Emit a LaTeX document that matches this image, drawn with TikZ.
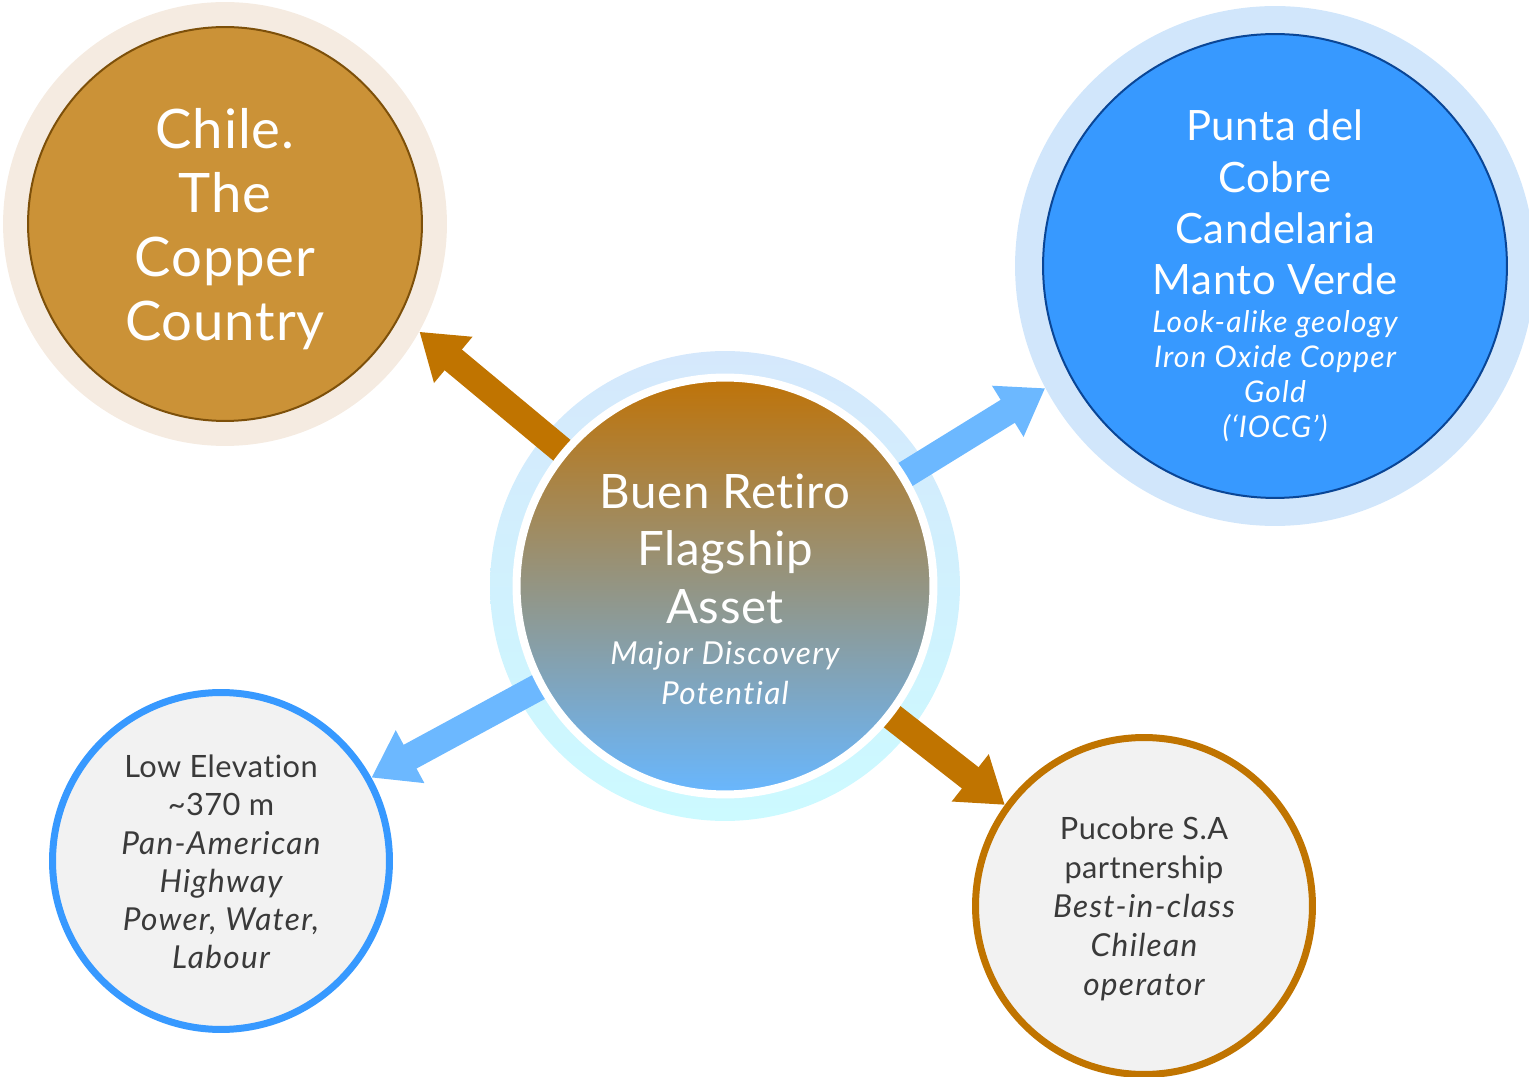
\documentclass[tikz,border=0pt]{standalone}
\usepackage{fontspec}
\setmainfont{Lato}[Ligatures=NoCommon, LetterSpace=1.5, ItalicFeatures={LetterSpace=4}]
\usetikzlibrary{arrows.meta}
\definecolor{chilehalo}{RGB}{245,235,225}
\definecolor{chilefill}{RGB}{203,146,55}
\definecolor{chileline}{RGB}{125,80,10}
\definecolor{puntahalo}{RGB}{209,230,251}
\definecolor{puntafill}{RGB}{55,153,255}
\definecolor{puntaline}{RGB}{10,70,150}
\definecolor{ctrtop}{RGB}{191,115,8}
\definecolor{ctrmid}{RGB}{142,156,152}
\definecolor{ctrbot}{RGB}{104,183,255}
\definecolor{halotop}{RGB}{213,232,252}
\definecolor{halobot}{RGB}{204,250,255}
\definecolor{copper}{RGB}{192,116,0}
\definecolor{skyarrow}{RGB}{108,184,255}
\definecolor{sidefill}{RGB}{242,242,242}
\definecolor{inktext}{RGB}{58,58,58}
\newcommand{\noteit}[1]{\itshape\fontsize{#1}{20}\selectfont}

\begin{document}
\begin{tikzpicture}[x=0.02cm, y=-0.02cm,
    halo/.style={circle, inner sep=0pt, fill=#1},
    bubble/.style={circle, inner sep=0pt},
    words/.style={inner sep=0pt, align=center},
    arr/.style={line width=0.54cm, draw=#1, -{Triangle[length=0.88cm, width=1.14cm]}}]
  \useasboundingbox (0,0) rectangle (1529,1077);
  \clip (0,0) rectangle (1529,1077);

  \node[halo=chilehalo, minimum size=8.88cm] (chileh) at (225,224) {};
  \node[bubble, minimum size=7.88cm, fill=chilefill, draw=chileline, line width=0.04cm] (chile) at (225,224) {};
  \node[words, text=white, font=\fontsize{31}{36.3}\selectfont] (chiletxt) at (225,229)
    {Chile.\\The\\Copper\\Country};

  \node[halo=puntahalo, minimum size=10.4cm] (puntah) at (1275,266) {};
  \node[bubble, minimum size=9.28cm, fill=puntafill, draw=puntaline, line width=0.04cm] (punta) at (1275,266) {};
  \node[words, text=white, font=\fontsize{23.8}{29.2}\selectfont] (puntatxt) at (1275,276)
    {Punta del\\Cobre\\Candelaria\\Manto Verde\\[-7.6pt]
     \noteit{17}Look-alike geology\\[-9.3pt]
     \noteit{17}Iron Oxide Copper\\[-9.3pt]
     \noteit{17}Gold\\[-9.3pt]
     \noteit{17}(‘IOCG’)};

  \node[bubble, minimum size=6.74cm, fill=sidefill, draw=puntafill, line width=0.14cm] (low) at (221,861) {};
  \node[words, text=inktext, font=\fontsize{17.5}{21.8}\selectfont] (lowtxt) at (221,862)
    {Low Elevation\\\textasciitilde370 m\\
     \noteit{18}Pan-American\\ \noteit{18}Highway\\
     \noteit{18}Power, Water,\\ \noteit{18}Labour};

  \node[bubble, minimum size=6.74cm, fill=sidefill, draw=copper, line width=0.14cm] (pucobre) at (1144,906) {};
  \node[words, text=inktext, font=\fontsize{17.5}{22.1}\selectfont] (pucobretxt) at (1144,909)
    {Pucobre S.A\\partnership\\
     \noteit{18}Best-in-class\\ \noteit{18}Chilean\\ \noteit{18}operator};

  \node[halo=white, minimum size=9.4cm, top color=halotop, bottom color=halobot] (ctrh) at (725,586) {};

  \draw[arr=copper] (ctrh.center) -- (chileh.-29);
  \draw[arr=skyarrow] (ctrh.center) -- (puntah.208);
  \draw[arr=skyarrow] (ctrh.center) -- (low.29);
  \draw[arr=copper] (ctrh.center) -- (pucobre.144);

  \node[bubble, minimum size=8.34cm, draw=white, line width=0.16cm,
    top color=ctrtop, middle color=ctrmid, bottom color=ctrbot] (ctr) at (725,586) {};
  \node[words, text=white, font=\fontsize{27}{32.9}\selectfont] (ctrtxt) at (725,589)
    {Buen Retiro\\Flagship\\Asset\\[-9.7pt]
     \noteit{18}Major Discovery\\[-10.2pt]
     \noteit{18}Potential};
\end{tikzpicture}
\end{document}
